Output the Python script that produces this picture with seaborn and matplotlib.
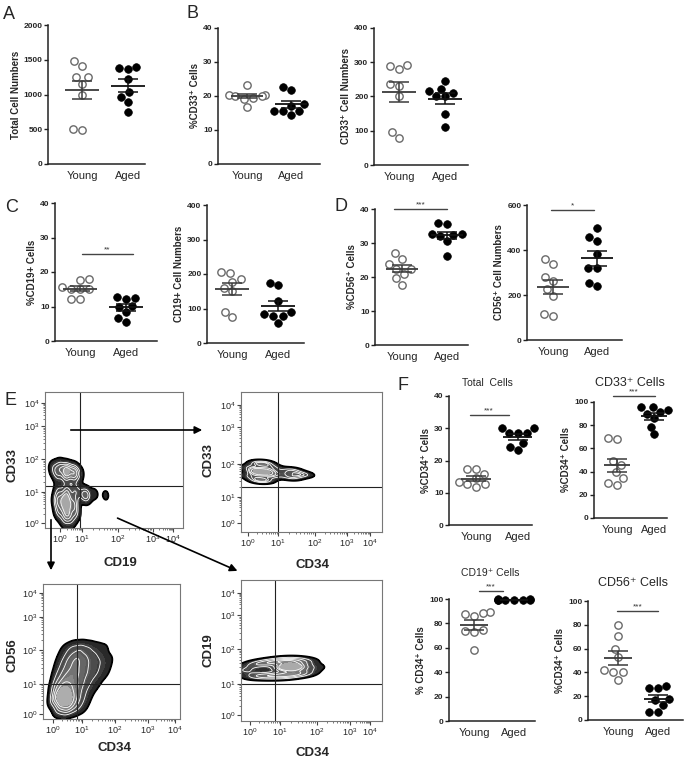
import numpy as np
import pandas as pd
import matplotlib
matplotlib.use("Agg")
import matplotlib.pyplot as plt
import seaborn as sns
from matplotlib.patches import FancyArrowPatch
from matplotlib.colors import LinearSegmentedColormap
import warnings
warnings.filterwarnings("ignore")

sns.set_theme(style="ticks")
plt.rcParams["font.family"] = ["Liberation Sans", "DejaVu Sans"]
plt.rcParams["mathtext.fontset"] = "custom"
plt.rcParams["mathtext.rm"] = "Liberation Sans"

groups = ["Young", "Aged"]

# ---------------- data ----------------
total_young = [1480, 1410, 1250, 1250, 1150, 1000, 490, 500]
total_aged = [1380, 1400, 1370, 1230, 1030, 970, 890, 750]
pct_cd33_young = [23.3, 20.4, 20.4, 20.0, 20.0, 19.5, 19.2, 16.8]
pct_cd33_aged = [21.9, 22.6, 17.6, 17.2, 14.5, 15.5, 15.5, 15.5]
num_cd33_young = [293, 281, 289, 237, 232, 200, 80, 96]
num_cd33_aged = [244, 210, 222, 215, 201, 201, 148, 110]
pct_cd19_young = [18.1, 17.6, 15.7, 15.2, 15.2, 15.0, 12.3, 12.3]
pct_cd19_aged = [12.5, 12.2, 12.7, 10.2, 10.0, 8.4, 6.6, 5.6]
num_cd19_young = [207, 203, 185, 178, 160, 150, 90, 75]
num_cd19_aged = [168, 175, 122, 91, 85, 78, 78, 59]
pct_cd56_young = [27.0, 25.3, 23.8, 22.5, 22.5, 21.0, 19.6, 17.6]
pct_cd56_aged = [35.9, 35.6, 32.6, 32.6, 32.3, 32.0, 30.5, 26.3]
num_cd56_young = [338, 359, 264, 281, 225, 196, 108, 116]
num_cd56_aged = [459, 496, 441, 382, 319, 319, 240, 255]
cd34_total_young = [17.4, 17.4, 15.8, 14.5, 13.3, 12.6, 12.6, 11.7]
cd34_total_aged = [30.0, 30.0, 28.4, 28.4, 28.4, 25.3, 24.1, 23.2]
cd34_cd33_young = [68.6, 68.0, 49.4, 45.7, 39.4, 34.3, 28.6, 30.0]
cd34_cd33_aged = [95.7, 95.7, 93.4, 91.4, 90.0, 86.0, 78.6, 72.0]
cd34_cd19_young = [89.0, 88.5, 87.5, 86.0, 74.5, 74.0, 73.0, 58.0]
cd34_cd19_aged = [99.0, 99.5, 100.0, 99.5, 99.2, 99.8, 99.4, 99.1]
cd34_cd56_young = [79.8, 70.9, 59.7, 52.7, 42.0, 40.0, 40.0, 34.0]
cd34_cd56_aged = [28.6, 26.6, 26.6, 18.0, 17.0, 13.0, 7.0, 7.0]

# flow cytometry event clusters (axis-fraction coordinates, weights)
f1_x = [0.06, 0.11, 0.16, 0.21, 0.25, 0.09, 0.15, 0.21,
        0.10, 0.16, 0.22, 0.27, 0.09, 0.15, 0.21, 0.10, 0.16, 0.22, 0.14, 0.19,
        0.30, 0.36, 0.44]
f1_y = [0.44, 0.45, 0.43, 0.42, 0.40, 0.39, 0.38, 0.37,
        0.27, 0.27, 0.27, 0.25, 0.20, 0.19, 0.18, 0.12, 0.11, 0.11, 0.05, 0.05,
        0.24, 0.25, 0.24]
f1_w = [0.7, 1.0, 1.5, 1.2, 0.6, 0.8, 1.0, 0.7,
        0.8, 1.2, 1.0, 0.6, 1.2, 2.5, 1.2, 1.0, 1.5, 0.9, 0.6, 0.6,
        1.2, 0.4, 0.4]
f2_x = [0.07, 0.07, 0.12, 0.12, 0.12, 0.17, 0.17, 0.17, 0.22, 0.22,
        0.30, 0.36, 0.36, 0.42, 0.46]
f2_y = [0.40, 0.46, 0.37, 0.43, 0.49, 0.37, 0.43, 0.49, 0.40, 0.46,
        0.42, 0.39, 0.44, 0.41, 0.41]
f2_w = [0.8, 0.8, 0.8, 1.5, 0.8, 0.8, 1.5, 0.8, 0.8, 0.8,
        0.6, 0.9, 0.9, 0.7, 0.4]
f3_x = [0.12, 0.18, 0.24, 0.30,
        0.09, 0.15, 0.21, 0.27, 0.33,
        0.09, 0.15, 0.21, 0.27, 0.33, 0.39,
        0.10, 0.16, 0.22, 0.28, 0.34, 0.40, 0.46,
        0.12, 0.18, 0.24, 0.30, 0.36, 0.42, 0.48,
        0.15, 0.21, 0.27, 0.33, 0.39, 0.45]
f3_y = [0.08, 0.08, 0.08, 0.08,
        0.16, 0.16, 0.16, 0.16, 0.16,
        0.25, 0.25, 0.25, 0.25, 0.25, 0.25,
        0.34, 0.34, 0.34, 0.34, 0.34, 0.34, 0.34,
        0.43, 0.43, 0.43, 0.43, 0.43, 0.43, 0.43,
        0.52, 0.52, 0.52, 0.52, 0.52, 0.52]
f3_w = [1.0, 1.4, 0.8, 0.4,
        1.6, 2.2, 1.4, 0.8, 0.4,
        1.0, 1.4, 1.2, 1.0, 0.6, 0.4,
        0.6, 1.0, 1.2, 1.0, 0.8, 0.6, 0.4,
        0.5, 0.9, 1.2, 1.0, 0.8, 0.6, 0.5,
        0.4, 0.8, 0.9, 0.7, 0.5, 0.4]
f4_x = [0.03, 0.08, 0.08, 0.15, 0.15, 0.22, 0.22, 0.30, 0.30, 0.30,
        0.38, 0.38, 0.38, 0.46, 0.46, 0.52]
f4_y = [0.36, 0.32, 0.40, 0.32, 0.41, 0.32, 0.42, 0.32, 0.38, 0.43,
        0.33, 0.38, 0.43, 0.34, 0.42, 0.38]
f4_w = [0.9, 0.6, 0.6, 0.7, 0.7, 0.8, 0.8, 0.9, 1.5, 0.9,
        0.9, 1.6, 0.9, 0.8, 0.8, 0.6]
decade_labels = ["$10^{0}$", "$10^{1}$", "$10^{2}$", "$10^{3}$", "$10^{4}$"]

# ---------------- figure ----------------
W, H = 685, 760
fig = plt.figure(figsize=(W / 100, H / 100), dpi=100)


def add_ax(l, r, t, b):
    return fig.add_axes([l / W, 1 - b / H, (r - l) / W, (b - t) / H])


def dot_panel(rect, cx, young, aged, ymax, step, ylabel, sig=None):
    l, r, t, b = rect
    ax = add_ax(l, r, t, b)
    yx, axx = cx
    sp = axx - yx
    df = pd.DataFrame({"group": ["Young"] * len(young) + ["Aged"] * len(aged),
                       "value": list(young) + list(aged)})
    sns.swarmplot(data=df[df.group == "Young"], x="group", y="value", order=groups,
                  color="white", edgecolor="#6a6a6a", linewidth=1.0, size=5.3, ax=ax,
                  clip_on=False, zorder=3)
    sns.swarmplot(data=df[df.group == "Aged"], x="group", y="value", order=groups,
                  color="black", edgecolor="black", linewidth=0.5, size=5.5, ax=ax,
                  clip_on=False, zorder=3)
    for i, (vals, col) in enumerate([(young, "#3a3a3a"), (aged, "#111111")]):
        v = np.asarray(vals, float)
        m = v.mean()
        s = v.std(ddof=1) / np.sqrt(len(v))
        ax.hlines(m, i - 0.36, i + 0.36, color=col, lw=1.3, zorder=5)
        ax.errorbar(i, m, yerr=s, fmt="none", ecolor=col, elinewidth=1.1,
                    capsize=7, capthick=1.1, zorder=5)
    ax.set_xlim(-(yx - l) / sp, 1 + (r - axx) / sp)
    ax.set_ylim(0, ymax)
    ax.set_yticks(np.arange(0, ymax + 1, step))
    ax.set_xlabel("")
    ax.set_ylabel(ylabel, fontweight="bold", fontsize=7, labelpad=2)
    for lab in ax.get_yticklabels():
        lab.set_fontweight("bold")
    ax.tick_params(axis="y", labelsize=6, length=3, width=1, pad=1, color="#222")
    ax.tick_params(axis="x", labelsize=8, length=0, pad=5)
    sns.despine(ax=ax)
    for s in ["left", "bottom"]:
        ax.spines[s].set_linewidth(1.1)
        ax.spines[s].set_color("#222")
    if sig is not None:
        x1, x2, yv, txt = sig
        ax.plot([x1, x2], [yv, yv], color="#444", lw=1.0, clip_on=False)
        ax.text((x1 + x2) / 2, yv + ymax * 0.005, txt, ha="center", va="bottom",
                fontsize=6, color="#333")
    return ax


dot_panel((48, 145, 25, 164), (82, 128), total_young, total_aged, 2000, 500,
          "Total Cell Numbers")
dot_panel((218, 320, 28, 164), (247, 291), pct_cd33_young, pct_cd33_aged, 40, 10,
          "%CD33⁺ Cells")
dot_panel((374, 468, 28, 165), (399, 445), num_cd33_young, num_cd33_aged, 400, 100,
          "CD33⁺ Cell Numbers")
dot_panel((55, 157, 203, 341), (80, 126), pct_cd19_young, pct_cd19_aged, 40, 10,
          "%CD19+ Cells", sig=(0.04, 1.16, 25.3, "**"))
dot_panel((207, 304, 205, 343), (232, 278), num_cd19_young, num_cd19_aged, 400, 100,
          "CD19+ Cell Numbers")
dot_panel((375, 468, 209, 345), (402, 447), pct_cd56_young, pct_cd56_aged, 40, 10,
          "%CD56⁺ Cells", sig=(-0.17, 1.0, 40, "***"))
dot_panel((527, 622, 205, 340), (553, 597), num_cd56_young, num_cd56_aged, 600, 200,
          "CD56⁺ Cell Numbers", sig=(-0.05, 0.93, 578, "*"))
dot_panel((449, 532, 396, 525), (476, 518), cd34_total_young, cd34_total_aged, 40, 10,
          "%CD34⁺ Cells", sig=(-0.15, 0.78, 34.1, "***"))
dot_panel((594, 667, 402, 518), (617, 654), cd34_cd33_young, cd34_cd33_aged, 100, 20,
          "%CD34⁺ Cells", sig=(-0.11, 1.03, 105, "***"))
dot_panel((449, 535, 599, 721), (474, 514), cd34_cd19_young, cd34_cd19_aged, 100, 20,
          "% CD34⁺ Cells", sig=(0.12, 0.73, 106.8, "***"))
dot_panel((588, 683, 601, 720), (618, 658), cd34_cd56_young, cd34_cd56_aged, 100, 20,
          "%CD34⁺ Cells", sig=(-0.02, 1.0, 91.6, "***"))

# F titles
fig.text(487 / W, 1 - 383 / H, "Total  Cells", ha="center", va="center", fontsize=7.5)
fig.text(630 / W, 1 - 383 / H, "CD33⁺ Cells", ha="center", va="center", fontsize=9)
fig.text(490 / W, 1 - 573 / H, "CD19⁺ Cells", ha="center", va="center", fontsize=7.5)
fig.text(633 / W, 1 - 583 / H, "CD56⁺ Cells", ha="center", va="center", fontsize=9)

# ---------------- flow plots ----------------
flow_cmap = LinearSegmentedColormap.from_list("zebra", ["#1e1e1e", "#6a6a6a", "#c4c4c4"])


def flow_panel(rect, xt, yt, gx, gy, xs, ys, ws, bw):
    l, r, t, b = rect
    ax = add_ax(l, r, t, b)
    kw = dict(x=xs, y=ys, weights=ws, bw_method=bw, ax=ax, clip=((0, 1), (0, 1)),
              gridsize=150)
    sns.kdeplot(fill=True, levels=9, thresh=0.06, cmap=flow_cmap, **kw)
    sns.kdeplot(fill=False, levels=[0.25, 0.45, 0.65, 0.82], colors="white",
                linewidths=0.6, **kw)
    sns.kdeplot(fill=False, levels=[0.06], colors="black", linewidths=1.3, **kw)
    ax.axvline(gx, color="#222", lw=0.8)
    ax.axhline(gy, color="#222", lw=0.8)
    ax.set_xlim(0, 1)
    ax.set_ylim(0, 1)
    ax.set_xticks(xt)
    ax.set_yticks(yt)
    ax.set_xticklabels(decade_labels, fontsize=6.5)
    ax.set_yticklabels(decade_labels, fontsize=6.5)
    minx, miny = [], []
    for arr, out in ((xt, minx), (yt, miny)):
        for a, c in zip(arr[:-1], arr[1:]):
            for k in range(2, 10):
                out.append(a + (c - a) * np.log10(k))
    ax.set_xticks(minx, minor=True)
    ax.set_yticks(miny, minor=True)
    ax.tick_params(which="major", length=3, width=0.8, pad=1, color="#444")
    ax.tick_params(which="minor", length=1.5, width=0.5, color="#444")
    ax.set_xlabel("")
    ax.set_ylabel("")
    for s in ax.spines.values():
        s.set_linewidth(0.8)
        s.set_color("#777")
    return ax


flow_panel((45, 183, 392, 528), [0.109, 0.268, 0.529, 0.783, 0.928],
           [0.037, 0.265, 0.507, 0.75, 0.919], 0.254, 0.309, f1_x, f1_y, f1_w, 0.33)
flow_panel((241, 382, 392, 532), [0.05, 0.262, 0.525, 0.752, 0.915],
           [0.064, 0.25, 0.486, 0.75, 0.907], 0.262, 0.321, f2_x, f2_y, f2_w, 0.45)
flow_panel((43, 180, 584, 719), [0.073, 0.285, 0.526, 0.766, 0.964],
           [0.037, 0.259, 0.511, 0.756, 0.933], 0.248, 0.259, f3_x, f3_y, f3_w, 0.35)
flow_panel((241, 382, 580, 721), [0.064, 0.277, 0.539, 0.773, 0.915],
           [0.043, 0.262, 0.511, 0.752, 0.908], 0.241, 0.262, f4_x, f4_y, f4_w, 0.5)

bold9 = dict(fontsize=9.5, fontweight="bold")
fig.text(12 / W, 1 - 465 / H, "CD33", rotation=90, ha="center", va="center", **bold9)
fig.text(120 / W, 1 - 563 / H, "CD19", ha="center", va="center", **bold9)
fig.text(208 / W, 1 - 460 / H, "CD33", rotation=90, ha="center", va="center", **bold9)
fig.text(312 / W, 1 - 565 / H, "CD34", ha="center", va="center", **bold9)
fig.text(12 / W, 1 - 655 / H, "CD56", rotation=90, ha="center", va="center", **bold9)
fig.text(115 / W, 1 - 748 / H, "CD34", ha="center", va="center", **bold9)
fig.text(208 / W, 1 - 650 / H, "CD19", rotation=90, ha="center", va="center", **bold9)
fig.text(312 / W, 1 - 753 / H, "CD34", ha="center", va="center", **bold9)

for (x0, y0), (x1, y1) in [((68, 430), (205, 430)), ((51, 517), (51, 573)),
                           ((115, 517), (240, 572))]:
    fig.add_artist(FancyArrowPatch((x0 / W, 1 - y0 / H), (x1 / W, 1 - y1 / H),
                                   transform=fig.transFigure, arrowstyle="-|>",
                                   mutation_scale=11, lw=1.2, color="black"))

# panel letters
for txt, x, y in [("A", 3, 6), ("B", 186, 5), ("C", 5, 199), ("D", 335, 198),
                  ("E", 5, 392), ("F", 397, 377)]:
    fig.text(x / W, 1 - y / H, txt, ha="left", va="top", fontsize=13)

fig.savefig("out.png", dpi=100)
